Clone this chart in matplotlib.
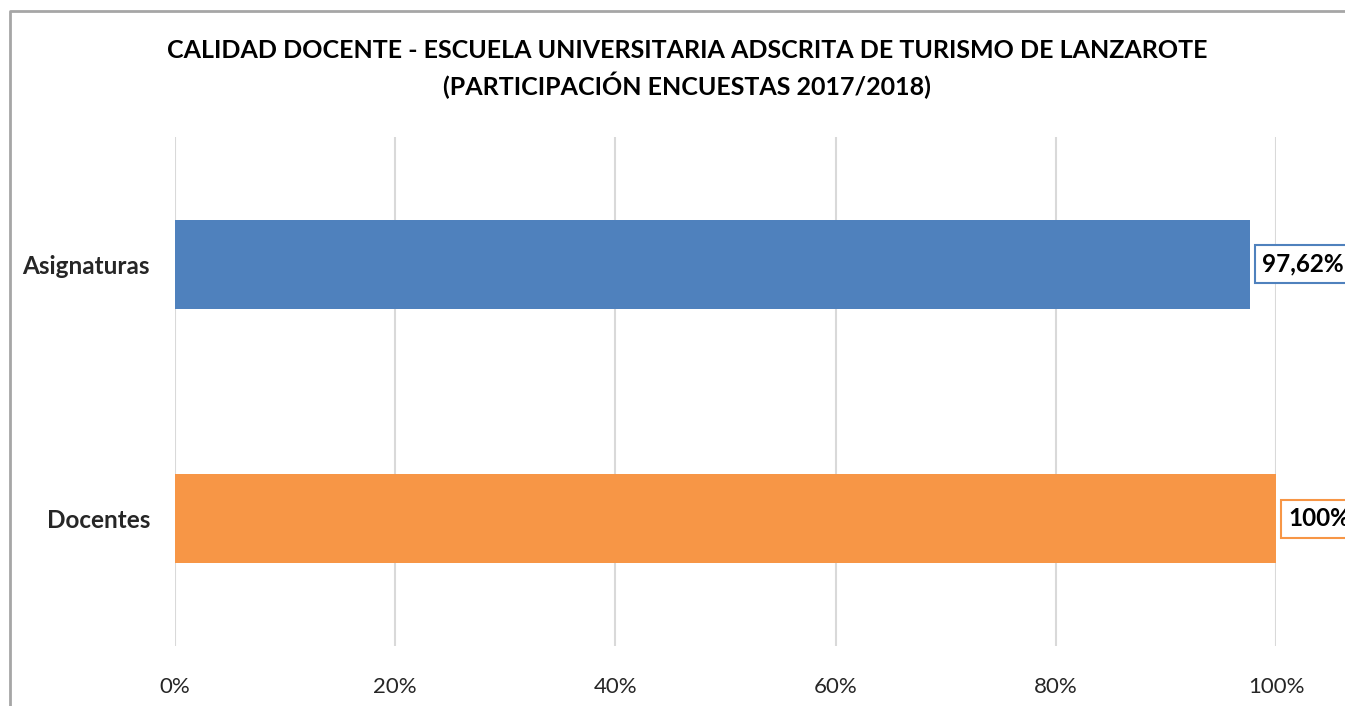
import matplotlib.pyplot as plt
from matplotlib.lines import Line2D

# Data
categorias = ["Docentes", "Asignaturas"]
valores = [1.0, 0.9762]
etiquetas = ["100%", "97,62%"]
colores = ["#F79646", "#4F81BD"]
ticks = [0, 0.2, 0.4, 0.6, 0.8, 1.0]
tick_labels = ["0%", "20%", "40%", "60%", "80%", "100%"]

plt.rcParams['font.family'] = ['Lato', 'DejaVu Sans']

W, H = 1345, 706
fig = plt.figure(figsize=(W / 100, H / 100), dpi=100)

# outer chart border (only left and top visible, as in the screenshot)
fig.add_artist(Line2D([9.5 / W, 9.5 / W, 1.0], [0, 1 - 11 / H, 1 - 11 / H],
                      transform=fig.transFigure, color="#A6A6A6", linewidth=2))

ax = fig.add_axes([175 / W, 60 / H, (1276 - 175) / W, (646 - 137) / H])

y = range(len(categorias))
ax.barh(y, valores, height=0.35, color=colores, zorder=3)
ax.set_ylim(-0.5, 1.5)
ax.set_xlim(0, 1)

ax.set_xticks(ticks)
ax.set_xticklabels(tick_labels, fontsize=16, color="#262626")
ax.set_yticks(list(y))
ax.set_yticklabels(categorias, fontsize=17.5, fontweight="bold", color="#262626")
ax.tick_params(axis="x", length=0, pad=22)
ax.tick_params(axis="y", length=0, pad=18)
ax.grid(axis="x", color="#D9D9D9", linewidth=1.5, zorder=0)
for s in ax.spines.values():
    s.set_visible(False)

for i, (v, lab, c) in enumerate(zip(valores, etiquetas, colores)):
    ax.annotate(lab, (v, i), xytext=(9, 0), textcoords="offset points",
                va="center", ha="left", fontsize=17.5, fontweight="bold",
                color="#000000", annotation_clip=False,
                bbox=dict(boxstyle="square,pad=0.3", fc="white", ec=c, lw=1.5))

fig.text(687 / W, 1 - 50 / H, "CALIDAD DOCENTE - ESCUELA UNIVERSITARIA ADSCRITA DE TURISMO DE LANZAROTE",
         ha="center", va="center", fontsize=18, fontweight="bold", color="#000000")
fig.text(687 / W, 1 - 85 / H, "(PARTICIPACIÓN ENCUESTAS 2017/2018)",
         ha="center", va="center", fontsize=18, fontweight="bold", color="#000000")

fig.savefig("out.png", dpi=100)
